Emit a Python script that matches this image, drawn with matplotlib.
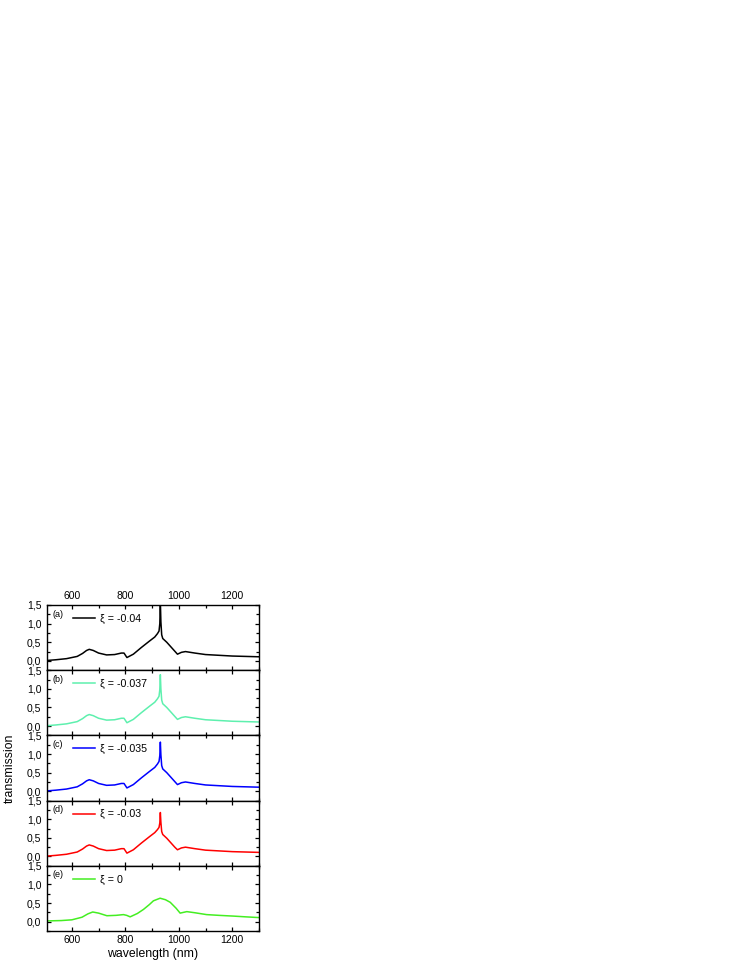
import matplotlib
matplotlib.use("Agg")
import matplotlib.pyplot as plt
from matplotlib.ticker import MultipleLocator, FuncFormatter

# wavelength grid (nm) shared by the four resonant curves
wl = [505, 540, 580, 620, 640, 655, 665, 680, 700, 730, 760, 785, 795, 806,
      830, 860, 890, 910, 920, 926, 929, 931, 933, 936, 940, 955, 970, 985,
      995, 1010, 1025, 1060, 1100, 1150, 1200, 1250, 1300]

t_a = [0.01, 0.03, 0.06, 0.12, 0.20, 0.28, 0.31, 0.28, 0.21, 0.16, 0.17, 0.21, 0.21, 0.09,
       0.18, 0.36, 0.53, 0.64, 0.73, 0.80, 1.00, 1.60, 1.05, 0.70, 0.60, 0.50, 0.38, 0.26,
       0.18, 0.23, 0.25, 0.21, 0.17, 0.15, 0.13, 0.12, 0.11]
t_b = [0.01, 0.03, 0.06, 0.12, 0.20, 0.28, 0.31, 0.28, 0.21, 0.16, 0.17, 0.21, 0.21, 0.09,
       0.18, 0.36, 0.53, 0.64, 0.73, 0.80, 0.98, 1.38, 1.00, 0.70, 0.60, 0.50, 0.38, 0.26,
       0.18, 0.23, 0.25, 0.21, 0.17, 0.15, 0.13, 0.12, 0.11]
t_c = [0.01, 0.03, 0.06, 0.12, 0.20, 0.28, 0.31, 0.28, 0.21, 0.16, 0.17, 0.21, 0.21, 0.09,
       0.18, 0.36, 0.53, 0.64, 0.73, 0.80, 0.96, 1.32, 0.98, 0.69, 0.60, 0.50, 0.38, 0.26,
       0.18, 0.23, 0.25, 0.21, 0.17, 0.15, 0.13, 0.12, 0.11]
t_d = [0.01, 0.03, 0.06, 0.12, 0.20, 0.28, 0.31, 0.28, 0.21, 0.16, 0.17, 0.21, 0.21, 0.09,
       0.18, 0.36, 0.53, 0.64, 0.72, 0.78, 0.90, 1.18, 0.92, 0.67, 0.59, 0.49, 0.37, 0.25,
       0.18, 0.23, 0.25, 0.21, 0.17, 0.15, 0.13, 0.12, 0.11]

# xi = 0 curve (smooth, no sharp resonance)
wl_e = [505, 560, 600, 638, 660, 678, 700, 731, 765, 793, 805, 818, 845, 868, 890,
        905, 930, 950, 968, 990, 1005, 1030, 1060, 1104, 1150, 1204, 1250, 1300]
t_e = [0.02, 0.03, 0.05, 0.12, 0.21, 0.26, 0.23, 0.16, 0.17, 0.19, 0.17, 0.13, 0.22, 0.33, 0.46,
       0.56, 0.63, 0.59, 0.52, 0.36, 0.23, 0.27, 0.24, 0.19, 0.17, 0.15, 0.13, 0.11]

panel_tags = ["(a)", "(b)", "(c)", "(d)", "(e)"]
xi_labels = ["\u03be = -0.04", "\u03be = -0.037", "\u03be = -0.035", "\u03be = -0.03", "\u03be = 0"]
colors = ["#000000", "#5ef0ae", "#0000ff", "#ff0000", "#44ee22"]

series = [(wl, t_a), (wl, t_b), (wl, t_c), (wl, t_d), (wl_e, t_e)]

plt.rcParams['font.family'] = ['Liberation Sans', 'DejaVu Sans']

fig, axes = plt.subplots(5, 1, figsize=(7.47, 9.67), dpi=100, sharex=True)
fig.subplots_adjust(left=47/747, right=259/747, top=1-605/967, bottom=1-931/967, hspace=0)

comma = FuncFormatter(lambda v, p: f"{v:.1f}".replace('.', ','))

for i, ax in enumerate(axes):
    x, y = series[i]
    ax.plot(x, y, color=colors[i], lw=1.1, label=xi_labels[i])
    ax.set_xlim(507, 1300)
    ax.set_ylim(-0.25, 1.5)
    ax.xaxis.set_major_locator(MultipleLocator(200))
    ax.xaxis.set_minor_locator(MultipleLocator(100))
    ax.yaxis.set_major_locator(MultipleLocator(0.5))
    ax.yaxis.set_minor_locator(MultipleLocator(0.25))
    ax.yaxis.set_major_formatter(comma)
    ax.tick_params(which='both', direction='in', top=True, right=True,
                   labelbottom=(i == 4), labeltop=(i == 0), labelsize=7.5, width=0.9)
    ax.tick_params(which='major', length=3.2)
    ax.tick_params(which='minor', length=2.0)
    ax.tick_params(axis='x', which='major', pad=3)
    ax.tick_params(axis='y', which='major', pad=4)
    for s in ax.spines.values():
        s.set_linewidth(1.0)
    ax.text(0.028, 0.86, panel_tags[i], transform=ax.transAxes, fontsize=6.5,
            ha='left', va='center')
    ax.legend(loc='center left', bbox_to_anchor=(0.123, 0.79), frameon=False,
              fontsize=7.7, handlelength=2.05, handletextpad=0.45,
              borderpad=0, borderaxespad=0)

axes[-1].set_xlabel("wavelength (nm)", fontsize=8.8, labelpad=2)
fig.text(10/747, 1-768/967, "transmission", rotation=90, fontsize=8.8,
         ha='center', va='center')

fig.savefig("out.png", dpi=100)
